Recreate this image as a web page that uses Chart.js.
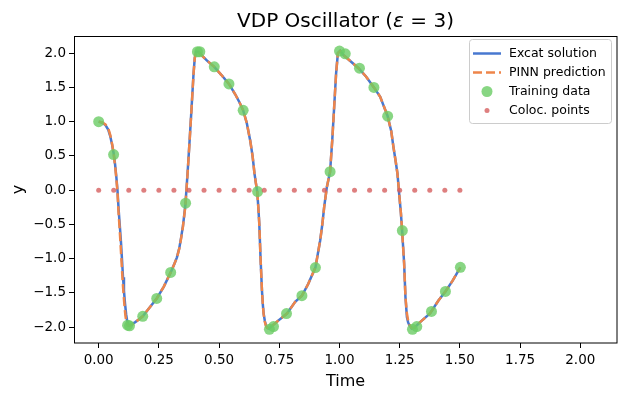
<!DOCTYPE html>
<html>
<head>
<meta charset="utf-8">
<script src="https://cdn.jsdelivr.net/npm/chart.js@4.4.1/dist/chart.umd.min.js"></script>
<style>
  html, body { margin: 0; padding: 0; background: #ffffff; }
  #wrap { width: 626px; height: 398px; }
</style>
</head>
<body>
<div id="wrap"><canvas id="c" width="626" height="398"></canvas></div>
<script>
// ---------------- DATA ----------------
const chartTitle = "VDP Oscillator";
const xLabel = "Time";
const yLabel = "y";
const seriesNames = ["Excat solution", "PINN prediction", "Training data", "Coloc. points"];

const timeExact = [0, 0.015, 0.028, 0.04, 0.0485, 0.056, 0.062, 0.068, 0.0734, 0.078, 0.083, 0.088, 0.093, 0.097, 0.101, 0.105, 0.1095, 0.114, 0.118, 0.123, 0.129,
  0.14, 0.152, 0.165, 0.183, 0.21, 0.241, 0.27, 0.299, 0.315, 0.325, 0.335, 0.342, 0.35, 0.36, 0.369, 0.3777, 0.386, 0.394, 0.399, 0.405, 0.414,
  0.43, 0.45, 0.48, 0.51, 0.541, 0.567, 0.585, 0.60, 0.615, 0.629, 0.639, 0.647, 0.653, 0.6585, 0.663, 0.667, 0.672, 0.678, 0.682, 0.685, 0.69, 0.6945, 0.70, 0.707,
  0.72, 0.747, 0.782, 0.816, 0.844, 0.87, 0.90, 0.91, 0.92, 0.929, 0.9365, 0.9477, 0.961, 0.97, 0.978, 0.986, 0.9934, 1.003,
  1.017, 1.04, 1.079, 1.11, 1.143, 1.169, 1.2, 1.215, 1.224, 1.233, 1.2407, 1.249, 1.255, 1.26, 1.2685, 1.274, 1.28, 1.285, 1.29, 1.30, 1.31,
  1.335, 1.376, 1.411, 1.44, 1.47, 1.502];
const yExact = [1.0, 0.985, 0.95, 0.88, 0.78, 0.66, 0.54, 0.38, 0.19, 0.0, -0.29, -0.53, -0.78, -1.02, -1.27, -1.47, -1.66, -1.81, -1.90, -1.96, -1.975,
  -1.95, -1.925, -1.89, -1.84, -1.72, -1.58, -1.41, -1.20, -1.07, -0.98, -0.84, -0.70, -0.52, -0.22, 0.244, 0.73, 1.218, 1.706, 1.93, 2.02, 2.02,
  1.96, 1.89, 1.80, 1.68, 1.55, 1.40, 1.28, 1.165, 0.98, 0.73, 0.50, 0.244, 0.10, -0.025, -0.25, -0.49, -0.975, -1.46, -1.68, -1.80, -1.91, -1.97, -2.01, -2.02,
  -1.98, -1.90, -1.80, -1.63, -1.54, -1.37, -1.13, -0.93, -0.73, -0.49, -0.244, 0.048, 0.27, 0.73, 1.218, 1.706, 2.0, 2.037,
  1.97, 1.90, 1.78, 1.66, 1.50, 1.364, 1.08, 0.86, 0.633, 0.43, 0.244, -0.098, -0.33, -0.585, -1.07, -1.56, -1.85, -1.93, -1.97, -2.02, -2.01,
  -1.925, -1.80, -1.61, -1.477, -1.32, -1.126];

const timePinn = [0, 0.015, 0.028, 0.04, 0.0485, 0.056, 0.062, 0.068, 0.0734, 0.078, 0.082, 0.087, 0.091, 0.095, 0.099, 0.103, 0.107, 0.111, 0.115, 0.120, 0.127,
  0.14, 0.152, 0.165, 0.183, 0.21, 0.241, 0.27, 0.299, 0.315, 0.325, 0.335, 0.342, 0.35, 0.36, 0.369, 0.3777, 0.386, 0.394, 0.399, 0.405, 0.414,
  0.43, 0.45, 0.48, 0.51, 0.541, 0.567, 0.585, 0.60, 0.615, 0.629, 0.639, 0.647, 0.653, 0.6585, 0.663, 0.667, 0.672, 0.678, 0.682, 0.685, 0.69, 0.6945, 0.70, 0.707,
  0.72, 0.747, 0.782, 0.816, 0.844, 0.87, 0.90, 0.91, 0.92, 0.929, 0.9365, 0.9477, 0.961, 0.97, 0.978, 0.986, 0.9934, 1.003,
  1.017, 1.04, 1.079, 1.11, 1.143, 1.169, 1.2, 1.215, 1.224, 1.233, 1.2407, 1.249, 1.255, 1.26, 1.2685, 1.274, 1.28, 1.285, 1.29, 1.30, 1.31,
  1.335, 1.376, 1.411, 1.44, 1.47, 1.502];
const yPinn = [1.0, 0.99, 0.96, 0.90, 0.80, 0.67, 0.53, 0.36, 0.17, -0.02, -0.30, -0.56, -0.80, -1.05, -1.30, -1.50, -1.68, -1.83, -1.92, -1.97, -1.98,
  -1.96, -1.93, -1.89, -1.84, -1.72, -1.58, -1.41, -1.20, -1.07, -0.98, -0.85, -0.71, -0.53, -0.23, 0.23, 0.72, 1.21, 1.70, 1.93, 2.02, 2.02,
  1.96, 1.89, 1.80, 1.68, 1.55, 1.40, 1.28, 1.165, 0.98, 0.73, 0.50, 0.244, 0.10, -0.025, -0.25, -0.49, -0.975, -1.46, -1.68, -1.81, -1.92, -1.98, -2.01, -2.02,
  -1.98, -1.90, -1.80, -1.63, -1.54, -1.37, -1.13, -0.93, -0.73, -0.49, -0.244, 0.048, 0.27, 0.73, 1.218, 1.706, 2.0, 2.03,
  1.97, 1.90, 1.78, 1.66, 1.50, 1.364, 1.08, 0.86, 0.633, 0.43, 0.244, -0.098, -0.33, -0.585, -1.07, -1.56, -1.80, -1.90, -1.96, -2.01, -2.01,
  -1.925, -1.80, -1.61, -1.477, -1.32, -1.126];

const timeTrain = [0, 0.062, 0.12, 0.128, 0.183, 0.241, 0.299, 0.361, 0.41, 0.42, 0.48, 0.541, 0.60, 0.66, 0.709, 0.726, 0.78, 0.844, 0.90,
  0.961, 1.0, 1.024, 1.083, 1.143, 1.2, 1.261, 1.303, 1.321, 1.382, 1.44, 1.502];
const yTrain = [1.0, 0.52, -1.97, -1.98, -1.84, -1.58, -1.20, -0.19, 2.02, 2.02, 1.80, 1.55, 1.165, -0.02, -2.03, -1.99, -1.80, -1.54, -1.13,
  0.27, 2.03, 1.99, 1.78, 1.50, 1.08, -0.59, -2.03, -1.99, -1.77, -1.477, -1.126];

const timeColoc = [0, 0.0625, 0.125, 0.1875, 0.25, 0.3125, 0.375, 0.4375, 0.5, 0.5625, 0.625, 0.6875, 0.75, 0.8125, 0.875, 0.9375,
  1.0, 1.0625, 1.125, 1.1875, 1.25, 1.3125, 1.375, 1.4375, 1.5];
const yColoc = [0, 0, 0, 0, 0, 0, 0, 0, 0, 0, 0, 0, 0, 0, 0, 0, 0, 0, 0, 0, 0, 0, 0, 0, 0];

const xTickValues = [0, 0.25, 0.5, 0.75, 1.0, 1.25, 1.5, 1.75, 2.0];
const yTickValues = [-2.0, -1.5, -1.0, -0.5, 0.0, 0.5, 1.0, 1.5, 2.0];

// ---------------- STYLE ----------------
const FONT = "'DejaVu Sans', 'Liberation Sans', sans-serif";
const cBlue = '#4878d0', cOrange = '#ee854a', cGreen = 'rgba(106,204,100,0.8)', cRed = 'rgba(214,95,95,0.8)';

function pts(xs, ys) { return xs.map((x, i) => ({ x: x, y: ys[i] })); }

const framePlugin = {
  id: 'framePlugin',
  afterDraw(chart) {
    const ctx = chart.ctx, a = chart.chartArea;
    ctx.save();
    // axes frame
    ctx.strokeStyle = '#000';
    ctx.lineWidth = 1;
    ctx.strokeRect(Math.round(a.left) + 0.5, Math.round(a.top) + 0.5, Math.round(a.right - a.left) - 0.5, Math.round(a.bottom - a.top) - 0.5);

    // title with italic epsilon
    const cx = (a.left + a.right) / 2;
    const fN = '20px ' + FONT, fI = 'italic 20px ' + FONT;
    const parts = [[chartTitle + ' (', fN], ['\u03b5', fI], [' = 3)', fN]];
    let w = 0;
    parts.forEach(p => { ctx.font = p[1]; w += ctx.measureText(p[0]).width; });
    let x = cx - w / 2;
    ctx.fillStyle = '#000';
    ctx.textBaseline = 'alphabetic';
    ctx.textAlign = 'left';
    parts.forEach(p => { ctx.font = p[1]; ctx.fillText(p[0], x, 27); x += ctx.measureText(p[0]).width; });

    // axis labels
    ctx.font = '16px ' + FONT;
    ctx.textAlign = 'center';
    ctx.textBaseline = 'alphabetic';
    ctx.fillText(xLabel, cx, 386);
    ctx.save();
    ctx.translate(23, (a.top + a.bottom) / 2);
    ctx.rotate(-Math.PI / 2);
    ctx.fillText(yLabel, 0, 0);
    ctx.restore();

    // legend
    const lx = 469.5, ly = 39.5, lw = 142, lh = 84;
    ctx.beginPath();
    ctx.roundRect(lx, ly, lw, lh, 3);
    ctx.fillStyle = 'rgba(255,255,255,0.8)';
    ctx.fill();
    ctx.strokeStyle = '#cccccc';
    ctx.lineWidth = 1;
    ctx.stroke();
    const rows = [53.5, 72.5, 91.5, 110.5];
    const ds = chart.data.datasets;
    // line samples
    ctx.lineWidth = 2.5;
    ctx.strokeStyle = ds[0].borderColor;
    ctx.setLineDash([]);
    ctx.beginPath(); ctx.moveTo(473, rows[0]); ctx.lineTo(501, rows[0]); ctx.stroke();
    ctx.strokeStyle = ds[1].borderColor;
    ctx.setLineDash(ds[1].borderDash);
    ctx.beginPath(); ctx.moveTo(473, rows[1]); ctx.lineTo(501, rows[1]); ctx.stroke();
    ctx.setLineDash([]);
    ctx.fillStyle = ds[2].backgroundColor;
    ctx.beginPath(); ctx.arc(487, rows[2], ds[2].pointRadius, 0, Math.PI * 2); ctx.fill();
    ctx.fillStyle = ds[3].backgroundColor;
    ctx.beginPath(); ctx.arc(487, rows[3], ds[3].pointRadius, 0, Math.PI * 2); ctx.fill();
    ctx.fillStyle = '#000';
    ctx.font = '12.5px ' + FONT;
    ctx.textAlign = 'left';
    ctx.textBaseline = 'middle';
    seriesNames.forEach((n, i) => ctx.fillText(n, 509, rows[i] + 0.5));
    ctx.restore();
  }
};

new Chart(document.getElementById('c'), {
  type: 'scatter',
  data: {
    datasets: [
      { label: seriesNames[0], data: pts(timeExact, yExact), showLine: true, borderColor: cBlue, borderWidth: 2.5,
        pointRadius: 0, fill: false, tension: 0, order: 4 },
      { label: seriesNames[1], data: pts(timePinn, yPinn), showLine: true, borderColor: cOrange, borderWidth: 2.5,
        borderDash: [9, 4], pointRadius: 0, fill: false, tension: 0, order: 3 },
      { label: seriesNames[2], data: pts(timeTrain, yTrain), showLine: false, backgroundColor: cGreen, borderWidth: 0,
        pointRadius: 5.5, pointHoverRadius: 5.5, order: 2 },
      { label: seriesNames[3], data: pts(timeColoc, yColoc), showLine: false, backgroundColor: cRed, borderWidth: 0,
        pointRadius: 2.5, pointHoverRadius: 2.5, order: 1 }
    ]
  },
  options: {
    responsive: false,
    animation: false,
    devicePixelRatio: 1,
    layout: { padding: { left: 0, right: 9, top: 36, bottom: 0 } },
    plugins: { legend: { display: false }, title: { display: false }, tooltip: { enabled: false } },
    scales: {
      x: {
        type: 'linear', min: -0.1025, max: 2.1525,
        afterBuildTicks: s => { s.ticks = xTickValues.map(v => ({ value: v })); },
        afterFit: s => { s.height = 55; },
        grid: { display: true, drawOnChartArea: false, drawTicks: true, tickLength: 5, tickColor: '#000', tickWidth: 1 },
        border: { display: false },
        ticks: { color: '#000', font: { family: FONT, size: 13.5 }, padding: 4, maxRotation: 0, autoSkip: false,
          callback: v => Number(v).toFixed(2) }
      },
      y: {
        type: 'linear', min: -2.23, max: 2.25,
        afterBuildTicks: s => { s.ticks = yTickValues.map(v => ({ value: v })); },
        afterFit: s => { s.width = 74; },
        grid: { display: true, drawOnChartArea: false, drawTicks: true, tickLength: 5, tickColor: '#000', tickWidth: 1 },
        border: { display: false },
        ticks: { color: '#000', font: { family: FONT, size: 13.5 }, padding: 3, autoSkip: false,
          callback: v => (v < 0 ? '\u2212' : '') + Math.abs(Number(v)).toFixed(1) }
      }
    }
  },
  plugins: [framePlugin]
});
</script>
</body>
</html>
